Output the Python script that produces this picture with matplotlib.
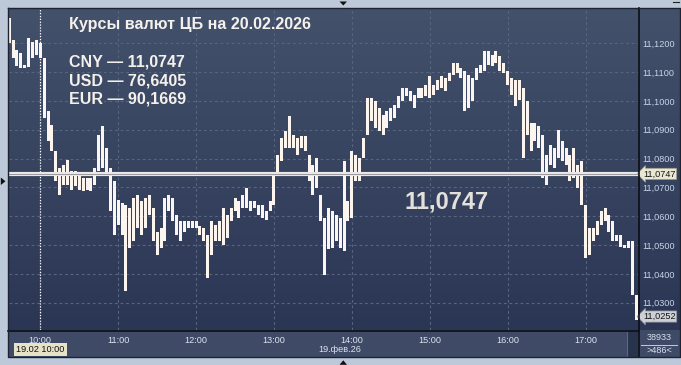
import numpy as np
import pandas as pd
import matplotlib
matplotlib.use("Agg")
import matplotlib.pyplot as plt
import matplotlib.dates as mdates
import matplotlib.transforms as mtransforms
from matplotlib.patches import Rectangle, Polygon
from matplotlib.lines import Line2D
from matplotlib.ticker import FixedLocator, FixedFormatter

plt.rcParams['font.family'] = ['Liberation Sans', 'DejaVu Sans']

# ---------------- data ----------------
title = "Курсы валют ЦБ на 20.02.2026"
rate_names = ["CNY", "USD", "EUR"]
rate_values = ["11,0747", "76,6405", "90,1669"]
cb_rate = 11.0747
cb_rate_label = "11,0747"
last_price = 11.0252
last_price_label = "11,0252"
start_time = "2026-02-19 09:36"
bar_minutes = 3
highs = [11.1288, 11.1211, 11.1177, 11.1165, 11.1126, 11.1218, 11.1205, 11.1210, 11.1200, 11.1150,
         11.0964, 11.0918, 11.0825, 11.0767, 11.0779, 11.0796, 11.0756, 11.0756, 11.0750, 11.0733,
         11.0733, 11.0733, 11.0767, 11.0883, 11.0912, 11.0837, 11.0767, 11.0721, 11.0657, 11.0646,
         11.0640, 11.0628, 11.0663, 11.0675, 11.0652, 11.0663, 11.0675, 11.0628, 11.0547, 11.0559,
         11.0663, 11.0675, 11.0663, 11.0605, 11.0582, 11.0582, 11.0582, 11.0582, 11.0582, 11.0565,
         11.0559, 11.0536, 11.0582, 11.0570, 11.0582, 11.0628, 11.0605, 11.0628, 11.0663, 11.0652,
         11.0675, 11.0698, 11.0652, 11.0652, 11.0640, 11.0640, 11.0617, 11.0652, 11.0744, 11.0814,
         11.0871, 11.0895, 11.0947, 11.0883, 11.0871, 11.0877, 11.0877, 11.0814, 11.0779, 11.0802,
         11.0675, 11.0594, 11.0628, 11.0617, 11.0605, 11.0594, 11.0790, 11.0652, 11.0825, 11.0814,
         11.0802, 11.0871, 11.1010, 11.1010, 11.0999, 11.0975, 11.0952, 11.0964, 11.0975, 11.0987,
         11.1016, 11.1045, 11.1045, 11.1033, 11.1022, 11.1045, 11.1045, 11.1056, 11.1085, 11.1056,
         11.1074, 11.1085, 11.1080, 11.1097, 11.1132, 11.1132, 11.1114, 11.1103, 11.1091, 11.1080,
         11.1114, 11.1126, 11.1172, 11.1172, 11.1161, 11.1172, 11.1155, 11.1132, 11.1103, 11.1080,
         11.1074, 11.1074, 11.1045, 11.0999, 11.0924, 11.0924, 11.0912, 11.0883, 11.0814, 11.0848,
         11.0837, 11.0900, 11.0860, 11.0837, 11.0814, 11.0837, 11.0779, 11.0790, 11.0640, 11.0559,
         11.0559, 11.0582, 11.0617, 11.0628, 11.0605, 11.0582, 11.0536, 11.0536, 11.0501, 11.0513,
         11.0513, 11.0327]
lows = [11.1201, 11.1150, 11.1120, 11.1114, 11.1114, 11.1118, 11.1150, 11.1160, 11.1148, 11.0941,
        11.0860, 11.0825, 11.0721, 11.0675, 11.0709, 11.0709, 11.0692, 11.0704, 11.0692, 11.0686,
        11.0692, 11.0686, 11.0709, 11.0756, 11.0767, 11.0744, 11.0617, 11.0536, 11.0571, 11.0536,
        11.0339, 11.0490, 11.0513, 11.0559, 11.0536, 11.0559, 11.0605, 11.0513, 11.0466, 11.0490,
        11.0513, 11.0617, 11.0582, 11.0536, 11.0513, 11.0547, 11.0559, 11.0559, 11.0559, 11.0536,
        11.0513, 11.0385, 11.0466, 11.0513, 11.0513, 11.0501, 11.0524, 11.0582, 11.0617, 11.0594,
        11.0628, 11.0628, 11.0617, 11.0628, 11.0605, 11.0594, 11.0588, 11.0617, 11.0640, 11.0744,
        11.0790, 11.0837, 11.0837, 11.0837, 11.0814, 11.0837, 11.0825, 11.0721, 11.0675, 11.0698,
        11.0582, 11.0397, 11.0485, 11.0490, 11.0513, 11.0490, 11.0478, 11.0582, 11.0594, 11.0721,
        11.0721, 11.0802, 11.0883, 11.0929, 11.0906, 11.0895, 11.0883, 11.0906, 11.0929, 11.0941,
        11.0975, 11.0999, 11.1016, 11.0999, 11.0975, 11.1010, 11.1010, 11.1016, 11.1010, 11.1022,
        11.1039, 11.1045, 11.1033, 11.1068, 11.1091, 11.1097, 11.1080, 11.0964, 11.0975, 11.0999,
        11.1074, 11.1097, 11.1103, 11.1126, 11.1120, 11.1132, 11.1103, 11.1097, 11.1056, 11.1022,
        11.0981, 11.1004, 11.0802, 11.0883, 11.0825, 11.0860, 11.0837, 11.0733, 11.0709, 11.0779,
        11.0767, 11.0802, 11.0790, 11.0779, 11.0721, 11.0733, 11.0698, 11.0640, 11.0455, 11.0466,
        11.0513, 11.0536, 11.0570, 11.0582, 11.0547, 11.0513, 11.0513, 11.0495, 11.0490, 11.0490,
        11.0327, 11.0240]
price_ticks = [11.03, 11.04, 11.05, 11.06, 11.07, 11.08, 11.09, 11.10, 11.11, 11.12]
price_tick_labels = ["11,0300", "11,0400", "11,0500", "11,0600", "11,0700",
                     "11,0800", "11,0900", "11,1000", "11,1100", "11,1200"]
hour_ticks = ["10:00", "11:00", "12:00", "13:00", "14:00", "15:00", "16:00", "17:00"]
day = "2026-02-19"
date_label = "19.фев.26"
cursor_time = "10:00"
cursor_label = "19.02 10:00"
volume_label = "38933"
count_label = ">486<"
view_start = "2026-02-19 09:35:54"
view_end = "2026-02-19 17:40:24"
y_min, y_max = 11.02053, 11.13225

# ---------------- layout helpers ----------------
W, H = 681, 365
fig = plt.figure(figsize=(W / 100, H / 100), dpi=100)
fig.patch.set_facecolor('#bdc9d9')


def box(x0, y0, x1, y1):
    return [x0 / W, 1 - y1 / H, (x1 - x0) / W, (y1 - y0) / H]


def P(x, y):
    return (x / W, 1 - y / H)


def frect(x0, y0, x1, y1, z=0.5, **kw):
    fig.add_artist(Rectangle(P(x0, y1), (x1 - x0) / W, (y1 - y0) / H,
                             transform=fig.transFigure, zorder=z, **kw))


def fline(xs, ys, z=5, **kw):
    fig.add_artist(Line2D([x / W for x in xs], [1 - y / H for y in ys],
                          transform=fig.transFigure, zorder=z, **kw))


# gradient background for plot + price panel
bg = fig.add_axes(box(8, 8, 680, 330))
bg.set_zorder(0)
bg.axis('off')
top_c = np.array([0x43, 0x51, 0x6b]) / 255
bot_c = np.array([0x2b, 0x36, 0x54]) / 255
t = np.linspace(0, 1, 256)[:, None, None]
grad = top_c[None, None, :] * (1 - t) + bot_c[None, None, :] * t
bg.imshow(grad, aspect='auto', extent=[0, 1, 0, 1])
bg.set_xlim(0, 1)
bg.set_ylim(0, 1)

# bottom band
frect(8, 330, 680, 357, facecolor='#3e4a66', edgecolor='none')
frect(627, 331, 637.5, 356.5, facecolor='#28334c', edgecolor='none')
fline([627, 627], [331, 356.5], z=0.6, color='#5b6783', lw=0.8)

# ---------------- main axes ----------------
ax = fig.add_axes(box(9, 8, 638, 330))
ax.set_zorder(2)
ax.set_facecolor('none')
for s in ax.spines.values():
    s.set_visible(False)

times = pd.date_range(start_time, periods=len(highs), freq=f"{bar_minutes}min")
xs = mdates.date2num(times)
hi = np.array(highs)
lo = np.array(lows)
heights = np.maximum(hi - lo, 0.0004)
ax.bar(xs, heights, bottom=lo, width=2.3 / 1440, color='#fbf4ef', linewidth=0,
       align='center', zorder=3)

ax.set_xlim(mdates.date2num(pd.Timestamp(view_start)), mdates.date2num(pd.Timestamp(view_end)))
ax.set_ylim(y_min, y_max)

hour_pos = [mdates.date2num(pd.Timestamp(f"{day} {h}")) for h in hour_ticks]
ax.xaxis.set_major_locator(FixedLocator(hour_pos))
ax.xaxis.set_major_formatter(FixedFormatter(hour_ticks))
ax.yaxis.set_major_locator(FixedLocator(price_ticks))
ax.yaxis.set_major_formatter(FixedFormatter(price_tick_labels))
ax.yaxis.tick_right()
ax.grid(True, color='#58657f', lw=0.8, ls=(0, (2.5, 2.5)), zorder=1)
ax.tick_params(axis='x', length=0, pad=4.2, labelsize=6.6, labelcolor='#dde3ee')
ax.tick_params(axis='y', length=0, pad=3.2, labelsize=6.6, labelcolor='#c6d4ea')

# CB rate line
ax.axhline(cb_rate, color='#ebe8e3', lw=3.0, zorder=5)
ax.axhline(cb_rate, color='#9a98a0', lw=0.7, zorder=6)

# cursor line
ax.axvline(mdates.date2num(pd.Timestamp(f"{day} {cursor_time}")), color='white',
           lw=0.9, ls=(0, (1, 1.3)), zorder=4)

# price flags in the right panel
tr = mtransforms.blended_transform_factory(ax.transAxes, ax.transData)
ax.text(1.0 + 5.0 / 629, cb_rate, cb_rate_label, transform=tr, fontsize=6.6, color='#151515',
        va='center', ha='left', zorder=10, clip_on=False,
        bbox=dict(boxstyle='larrow,pad=0.12', fc='#e9e6d2', ec='#9a9a8a', lw=0.5))
ax.text(1.0 + 5.0 / 629, last_price, last_price_label, transform=tr, fontsize=6.6,
        color='#151515', va='center', ha='left', zorder=10, clip_on=False,
        bbox=dict(boxstyle='larrow,pad=0.12', fc='#cdd0d7', ec='#8a8c94', lw=0.5))

# frame lines
fline([8, 638.5], [330.5, 330.5], color='#0c0f16', lw=1.2)
fline([638.5, 638.5], [8, 357], color='#0c0f16', lw=1.2)
fline([8, 680, 680, 8, 8], [8, 8, 357, 357, 8], color='#1c2333', lw=1.0)
fline([641, 677], [344.6, 344.6], color='#c2cde0', lw=0.7)

# ---------------- texts ----------------
txt_c = '#f4f1ec'
fig.text(69 / W, 1 - 29.5 / H, title, fontsize=11.6, weight='bold', color=txt_c,
         va='baseline', zorder=6)
for i, (n, v) in enumerate(zip(rate_names, rate_values)):
    fig.text(69 / W, 1 - (66.7 + 18.3 * i) / H, f"{n} — {v}", fontsize=11.5, weight='bold',
             color=txt_c, va='baseline', zorder=6)
fig.text(405 / W, 1 - 208.3 / H, cb_rate_label, fontsize=17, weight='bold', color='#e4e1dc',
         va='baseline', zorder=6)

fig.text(339.5 / W, 1 - 349.3 / H, date_label, fontsize=6.6, color='#dde3ee',
         ha='center', va='center', zorder=6)
frect(14, 343, 67, 355.5, z=5, facecolor='#e7e3c9', edgecolor='none')
fig.text(40.5 / W, 1 - 349.3 / H, cursor_label, fontsize=6.6, color='#101010',
         ha='center', va='center', zorder=6)
fig.text(659 / W, 1 - 337.8 / H, volume_label, fontsize=6.6, color='#d7e0ee',
         ha='center', va='center', zorder=6)
fig.text(659 / W, 1 - 350.6 / H, count_label, fontsize=6.6, color='#d7e0ee',
         ha='center', va='center', zorder=6)

# small navigation triangles
for pts in ([(339.5, 1.5), (347, 1.5), (343.3, 5.5)],
            [(0.8, 177.5), (0.8, 185), (5.5, 181.3)],
            [(339.5, 364.8), (347, 364.8), (343.3, 360.3)]):
    fig.add_artist(Polygon([P(x, y) for x, y in pts], closed=True, facecolor='#111111',
                           edgecolor='none', transform=fig.transFigure, zorder=6))
fline([673, 679], [2, 2], color='#222222', lw=0.8)

fig.savefig('out.png', dpi=100, facecolor=fig.get_facecolor())
